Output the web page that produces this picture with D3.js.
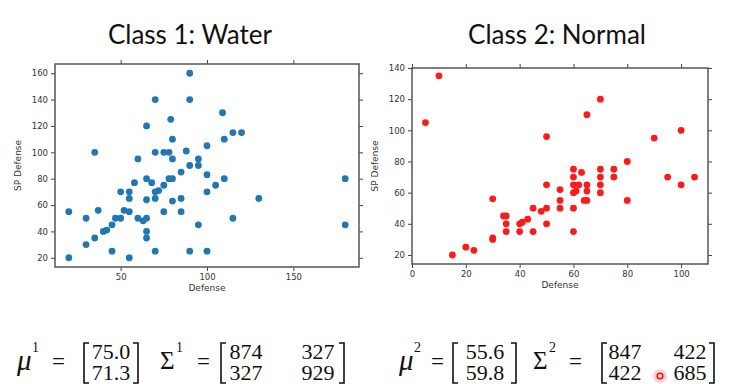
<!DOCTYPE html>
<html>
<head>
<meta charset="UTF-8">
<title>Water vs Normal</title>
<style>
  body { margin: 0; background: #fff; }
  svg { display: block; }
  .tick text { font-family: "DejaVu Sans", sans-serif; font-size: 8.5px; fill: #333; }
  .tick line { stroke: #444; }
  .domain { display: none; }
</style>
</head>
<body>
<svg></svg>
<script src="https://d3js.org/d3.v7.min.js"></script>
<script>

let width = 730, height = 384;

// class 1: water (defense, sp defense)
let waterDef = [20,20,30,30,35,35,37,40,42,45,45,47,50,50,52,55,55,55,55,58,60,60,63,65,65,65,65,65,65,68,70,70,70,70,70,72,75,75,75,78,79,78,80,80,80,80,85,85,85,88,90,90,90,90,95,95,95,100,100,100,100,105,109,110,110,115,115,120,130,180,180];
let waterSpd = [20,55,50,30,100,35,56,40,41,45,25,50,50,70,56,55,70,65,20,77,95,50,48,120,80,64,40,35,50,77,140,100,70,65,25,71,100,75,55,100,125,80,110,95,80,63,85,65,55,101,160,140,90,25,95,90,45,105,83,70,25,75,130,110,80,115,50,115,65,80,45];

// class 2: normal
let normalDef = [5,10,15,20,23,30,30,30,34,35,35,35,40,40,41,43,45,45,48,50,50,50,50,55,55,55,60,60,60,60,60,60,61,62,63,64,65,65,65,65,70,70,70,70,70,75,75,80,80,90,95,100,100,105];
let normalSpd = [105,135,20,25,23,56,31,30,45,45,40,35,40,35,41,43,50,35,48,96,65,50,40,62,55,50,75,70,65,60,50,35,61,65,73,55,110,65,61,55,120,75,70,65,60,75,70,80,55,95,70,100,65,70];

let titles = ["Class 1: Water", "Class 2: Normal"];
let xTicks1 = [50, 100, 150], yTicks1 = [20, 40, 60, 80, 100, 120, 140, 160];
let xTicks2 = [0, 20, 40, 60, 80, 100], yTicks2 = [20, 40, 60, 80, 100, 120, 140];

let mu1 = ["75.0", "71.3"], sigma1 = [["874", "327"], ["327", "929"]];
let mu2 = ["55.6", "59.8"], sigma2 = [["847", "422"], ["422", "685"]];

let svg = d3.select("svg").attr("width", width).attr("height", height);

function scatter(opt) {
    let x = d3.scaleLinear().domain(opt.xDom).range([opt.left, opt.right]);
    let y = d3.scaleLinear().domain(opt.yDom).range([opt.bottom, opt.top]);
    let g = svg.append("g");

    g.append("g").attr("transform", `translate(0,${opt.bottom})`)
        .call(d3.axisBottom(x).tickValues(opt.xTicks).tickSize(4).tickPadding(3));
    g.append("g").attr("transform", `translate(0,${opt.top})`)
        .call(d3.axisTop(x).tickValues(opt.xTicks).tickSize(4).tickFormat(""));
    g.append("g").attr("transform", `translate(${opt.left},0)`)
        .call(d3.axisLeft(y).tickValues(opt.yTicks).tickSize(4).tickPadding(3));
    g.append("g").attr("transform", `translate(${opt.right},0)`)
        .call(d3.axisRight(y).tickValues(opt.yTicks).tickSize(4).tickFormat(""));

    g.append("rect")
        .attr("x", opt.left).attr("y", opt.top)
        .attr("width", opt.right - opt.left).attr("height", opt.bottom - opt.top)
        .attr("fill", "none").attr("stroke", "#555").attr("stroke-width", 1.5);

    g.selectAll("circle.pt")
        .data(d3.zip(opt.xs, opt.ys))
        .enter().append("circle")
        .attr("class", "pt")
        .attr("cx", d => x(d[0])).attr("cy", d => y(d[1]))
        .attr("r", 3.4)
        .attr("fill", opt.color);

    g.append("text")
        .attr("x", (opt.left + opt.right) / 2).attr("y", opt.bottom + 24)
        .attr("text-anchor", "middle")
        .style("font-family", "DejaVu Sans").style("font-size", "9px").style("fill", "#333")
        .text("Defense");
    g.append("text")
        .attr("transform", `translate(${opt.left - 34},${(opt.top + opt.bottom) / 2}) rotate(-90)`)
        .attr("text-anchor", "middle")
        .style("font-family", "DejaVu Sans").style("font-size", "9px").style("fill", "#333")
        .text("SP Defense");

    svg.append("text")
        .attr("x", opt.titleX).attr("y", 44)
        .attr("text-anchor", "middle")
        .style("font-family", "Lato").style("font-size", "26px").style("fill", "#111")
        .text(opt.title);
}

scatter({xDom: [12, 188], yDom: [13, 167], left: 55, right: 359, top: 64, bottom: 267,
    xTicks: xTicks1, yTicks: yTicks1, xs: waterDef, ys: waterSpd, color: "#1f77b4",
    title: titles[0], titleX: 190});
scatter({xDom: [0, 110], yDom: [14.2, 140], left: 412, right: 708, top: 68, bottom: 264,
    xTicks: xTicks2, yTicks: yTicks2, xs: normalDef, ys: normalSpd, color: "#ff1a1a",
    title: titles[1], titleX: 557});

// formulas
let serif = "Liberation Serif";
function txt(x, y, s, size, anchor, italic) {
    svg.append("text").attr("x", x).attr("y", y)
        .attr("text-anchor", anchor || "start")
        .style("font-family", serif).style("font-size", size + "px")
        .style("font-style", italic ? "italic" : "normal")
        .style("fill", "#111").text(s);
}
function bracket(x, dir) {
    let t = 343, b = 383, w = 5 * dir;
    svg.append("path")
        .attr("d", `M${x + w},${t} H${x} V${b} H${x + w}`)
        .attr("fill", "none").attr("stroke", "#111").attr("stroke-width", 1.6);
}
function formula(o) {
    txt(o.mu, 370, "μ", 29, "start", true);
    txt(o.mu + 15, 352, o.k, 14);
    txt(o.eq1, 369, "=", 23);
    bracket(o.b1, 1);
    txt(o.vc, 359, o.mean[0], 22, "middle");
    txt(o.vc, 380, o.mean[1], 22, "middle");
    bracket(o.b2, -1);
    txt(o.sg, 369, "Σ", 25);
    txt(o.sg + 16, 352, o.k, 14);
    txt(o.eq2, 369, "=", 23);
    bracket(o.b3, 1);
    o.cov.forEach((row, i) => {
        txt(o.c1, 359 + i * 21, row[0], 22, "middle");
        txt(o.c2, 359 + i * 21, row[1], 22, "middle");
    });
    bracket(o.b4, -1);
}
formula({k: "1", mean: mu1, cov: sigma1, mu: 17, eq1: 52, b1: 84, vc: 111, b2: 138,
    sg: 160, eq2: 197, b3: 221, c1: 246, c2: 318, b4: 344});
formula({k: "2", mean: mu2, cov: sigma2, mu: 399, eq1: 431, b1: 453, vc: 485, b2: 516,
    sg: 533, eq2: 569, b3: 602, c1: 625, c2: 690, b4: 714});

// laser pointer dot
svg.append("circle").attr("cx", 660).attr("cy", 376).attr("r", 7).attr("fill", "#ff9a9a").attr("opacity", 0.45);
svg.append("circle").attr("cx", 660).attr("cy", 376).attr("r", 2.8).attr("fill", "#ffe0e0").attr("stroke", "#ee1111").attr("stroke-width", 1.6);

</script>
</body>
</html>
